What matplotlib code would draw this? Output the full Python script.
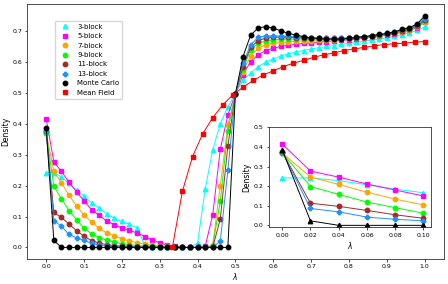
import numpy as np
import matplotlib
matplotlib.use("Agg")
import matplotlib.pyplot as plt

# lambda grid of the block / Monte Carlo runs
lam = np.linspace(0.0, 1.0, 51)
# lambda grid of the mean field curve
lam_mf = np.linspace(1.0 / 3.0, 1.0, 26)

block3 = [0.242, 0.242, 0.228, 0.207, 0.185, 0.166, 0.144, 0.127, 0.109, 0.094,
          0.084, 0.075, 0.063, 0.008, 0.002, 0.0, 0.0, 0.0,
          0.0, 0.0, 0.014, 0.188, 0.315, 0.400, 0.455, 0.497,
          0.542, 0.563, 0.585, 0.599, 0.610, 0.619, 0.626, 0.632, 0.637, 0.642,
          0.646, 0.650, 0.653, 0.657, 0.660, 0.663, 0.667, 0.670, 0.674, 0.678,
          0.683, 0.688, 0.694, 0.702, 0.713]
block5 = [0.415, 0.277, 0.246, 0.211, 0.180, 0.150, 0.122, 0.104, 0.085, 0.073,
          0.063, 0.055, 0.047, 0.035, 0.024, 0.015, 0.007, 0.003,
          0.0, 0.0, 0.0, 0.003, 0.105, 0.318, 0.428, 0.497,
          0.558, 0.601, 0.623, 0.637, 0.644, 0.650, 0.654, 0.657, 0.660, 0.662,
          0.664, 0.666, 0.668, 0.670, 0.672, 0.674, 0.677, 0.680, 0.683, 0.687,
          0.691, 0.696, 0.702, 0.711, 0.728]
block7 = [0.370, 0.246, 0.209, 0.169, 0.134, 0.104, 0.082, 0.062, 0.047, 0.037,
          0.028, 0.021, 0.015, 0.011, 0.008, 0.005, 0.003, 0.002,
          0.0, 0.0, 0.0, 0.0, 0.008, 0.200, 0.395, 0.497,
          0.569, 0.619, 0.644, 0.655, 0.660, 0.663, 0.665, 0.667, 0.668, 0.669,
          0.670, 0.671, 0.672, 0.673, 0.675, 0.677, 0.679, 0.682, 0.685, 0.689,
          0.693, 0.698, 0.704, 0.713, 0.730]
block9 = [0.370, 0.198, 0.158, 0.119, 0.090, 0.062, 0.044, 0.032, 0.023, 0.017,
          0.012, 0.009, 0.006, 0.004, 0.003, 0.002, 0.001, 0.0,
          0.0, 0.0, 0.0, 0.0, 0.005, 0.150, 0.378, 0.497,
          0.577, 0.639, 0.660, 0.668, 0.671, 0.673, 0.674, 0.674, 0.674, 0.674,
          0.674, 0.674, 0.675, 0.675, 0.676, 0.678, 0.680, 0.683, 0.686, 0.690,
          0.694, 0.699, 0.705, 0.715, 0.732]
block11 = [0.375, 0.113, 0.097, 0.076, 0.054, 0.036, 0.022, 0.014, 0.009, 0.006,
           0.004, 0.003, 0.002, 0.001, 0.001, 0.0, 0.0, 0.0,
           0.0, 0.0, 0.0, 0.0, 0.0, 0.092, 0.328, 0.497,
           0.585, 0.647, 0.669, 0.677, 0.680, 0.680, 0.680, 0.679, 0.678, 0.677,
           0.676, 0.676, 0.676, 0.676, 0.677, 0.679, 0.681, 0.684, 0.687, 0.691,
           0.695, 0.701, 0.707, 0.717, 0.735]
block13 = [0.375, 0.086, 0.069, 0.042, 0.031, 0.023, 0.013, 0.008, 0.005, 0.003,
           0.002, 0.001, 0.001, 0.0, 0.0, 0.0, 0.0, 0.0,
           0.0, 0.0, 0.0, 0.0, 0.0, 0.020, 0.250, 0.497,
           0.596, 0.655, 0.680, 0.684, 0.684, 0.684, 0.683, 0.682, 0.680, 0.678,
           0.677, 0.676, 0.676, 0.676, 0.677, 0.679, 0.681, 0.684, 0.688, 0.692,
           0.697, 0.703, 0.709, 0.720, 0.740]
monte_carlo = [0.385, 0.023, 0.0, 0.0, 0.0, 0.0, 0.0, 0.0, 0.0, 0.0,
               0.0, 0.0, 0.0, 0.0, 0.0, 0.0, 0.0, 0.0,
               0.0, 0.0, 0.0, 0.0, 0.0, 0.0, 0.0, 0.497,
               0.617, 0.686, 0.710, 0.714, 0.709, 0.701, 0.692, 0.687, 0.682, 0.678,
               0.676, 0.674, 0.674, 0.674, 0.676, 0.680, 0.682, 0.685, 0.689, 0.692,
               0.697, 0.706, 0.711, 0.723, 0.748]
mean_field = [0.0, 0.182, 0.294, 0.367, 0.420, 0.461, 0.494, 0.518, 0.540, 0.558,
              0.571, 0.585, 0.596, 0.605, 0.615, 0.623, 0.629, 0.637, 0.642, 0.647,
              0.652, 0.656, 0.659, 0.661, 0.664, 0.666]

series = [
    ("3-block", block3, "cyan", "^"),
    ("5-block", block5, "magenta", "s"),
    ("7-block", block7, "orange", "o"),
    ("9-block", block9, "lime", "o"),
    ("11-block", block11, "brown", "o"),
    ("13-block", block13, "dodgerblue", "P"),
]

n_inset = 6  # points from lambda = 0 to 0.1

fig = plt.figure(figsize=(4.48, 2.84), dpi=100)
ax = fig.add_axes([0.061, 0.088, 0.929, 0.898])

for label, vals, col, mk in series:
    ax.plot(lam, vals, color=col, marker=mk, ms=3.2, lw=0.7, label=label)
ax.plot(lam, monte_carlo, color="black", marker="o", ms=3.2, lw=0.7, label="Monte Carlo")
ax.plot(lam_mf, mean_field, color="red", marker="s", ms=2.8, lw=0.7, label="Mean Field")

ax.set_xlim(-0.05, 1.05)
ax.set_ylim(-0.0375, 0.7875)
ax.set_xticks(np.arange(0, 1.01, 0.1))
ax.set_yticks(np.arange(0, 0.71, 0.1))
ax.tick_params(labelsize=4.5, length=1.8, width=0.5, pad=2)
ax.set_xlabel(r"$\lambda$", fontsize=5.5, labelpad=1.5)
ax.set_ylabel("Density", fontsize=5.5, labelpad=1.5)
for sp in ax.spines.values():
    sp.set_linewidth(0.6)
    sp.set_color("#333333")

leg = ax.legend(loc="upper left", bbox_to_anchor=(0.066, 0.934), borderaxespad=0,
                fontsize=5, frameon=True, handlelength=2.0)
for h in leg.get_lines():
    h.set_linestyle("None")

# inset: zoom on small lambda
ins = fig.add_axes([0.600, 0.1996, 0.361, 0.352])
for label, vals, col, mk in series:
    ins.plot(lam[:n_inset], vals[:n_inset], color=col, marker=mk, ms=3.2, lw=0.7)
ins.plot(lam[:n_inset], monte_carlo[:n_inset], color="black", marker="^", ms=3.2, lw=0.7)
ins.set_xlim(-0.0095, 0.105)
ins.set_ylim(-0.01, 0.5)
ins.set_xticks(np.arange(0, 0.101, 0.02))
ins.set_yticks(np.arange(0, 0.51, 0.1))
ins.tick_params(labelsize=4.5, length=1.8, width=0.5, pad=2)
ins.set_xlabel(r"$\lambda$", fontsize=5.5, labelpad=1.5)
ins.set_ylabel("Density", fontsize=5.5, labelpad=1.5)
for sp in ins.spines.values():
    sp.set_linewidth(0.6)
    sp.set_color("#333333")

fig.savefig("out.png", dpi=100)
